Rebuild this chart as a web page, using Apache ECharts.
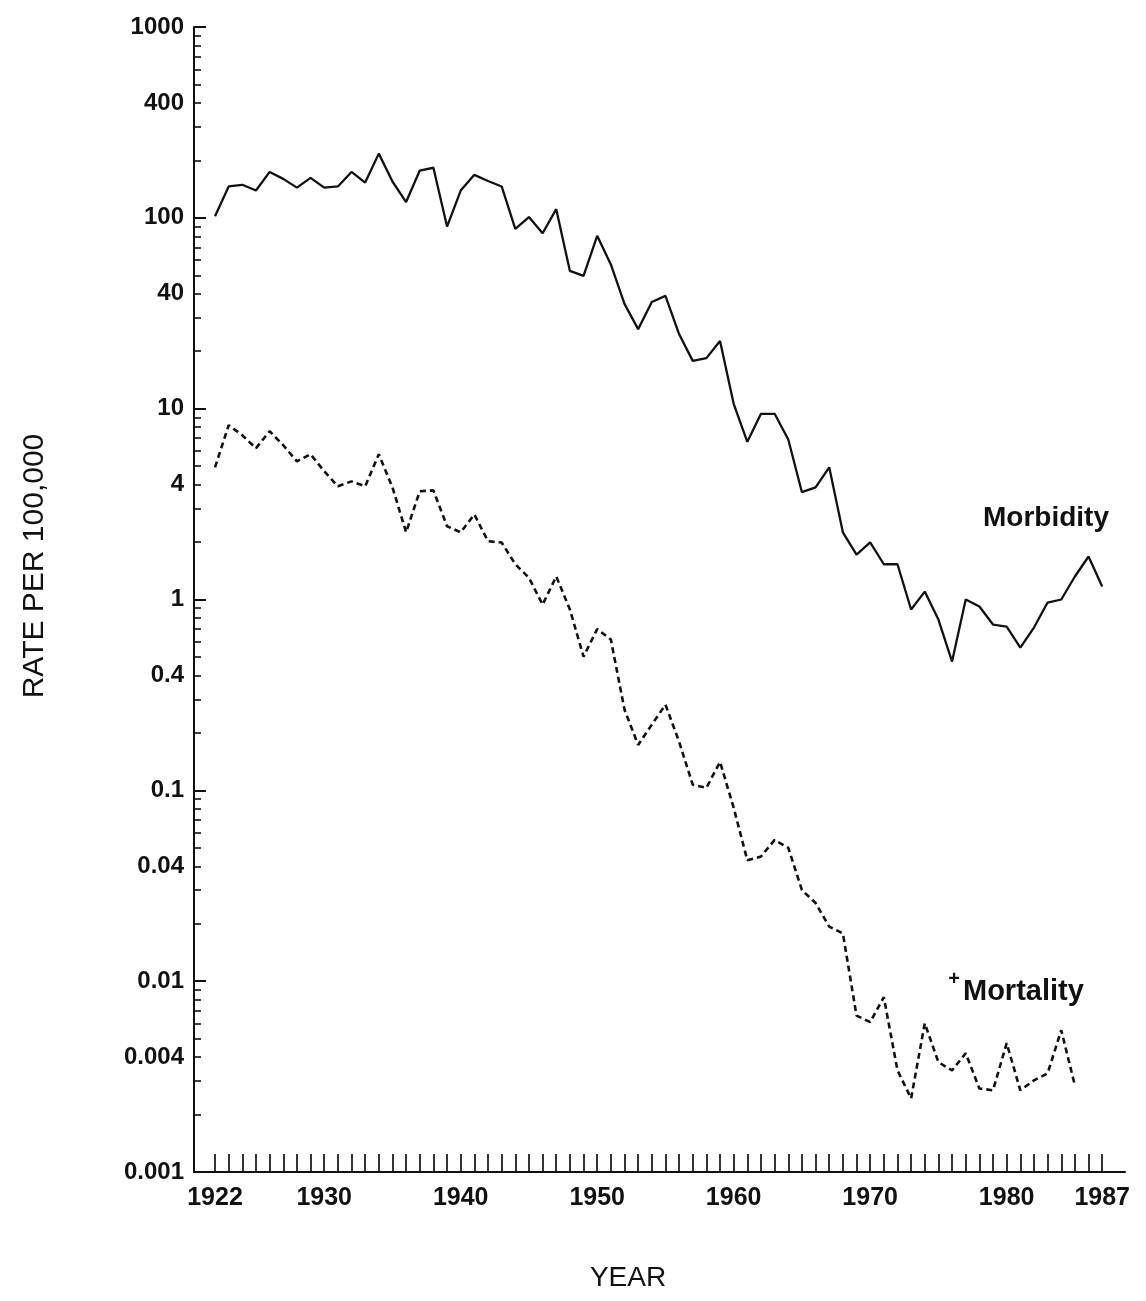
<!DOCTYPE html>
<html>
<head>
<meta charset="utf-8">
<script src="https://cdn.jsdelivr.net/npm/echarts@6/dist/echarts.min.js"></script>
<style>
  html, body { margin: 0; padding: 0; background: #ffffff; }
  #chart { width: 1146px; height: 1301px; }
</style>
</head>
<body>
<div id="chart"></div>
<script>
// Years of observation
const years = [
  1922, 1923, 1924, 1925, 1926, 1927, 1928, 1929, 1930, 1931,
  1932, 1933, 1934, 1935, 1936, 1937, 1938, 1939, 1940, 1941,
  1942, 1943, 1944, 1945, 1946, 1947, 1948, 1949, 1950, 1951,
  1952, 1953, 1954, 1955, 1956, 1957, 1958, 1959, 1960, 1961,
  1962, 1963, 1964, 1965, 1966, 1967, 1968, 1969, 1970, 1971,
  1972, 1973, 1974, 1975, 1976, 1977, 1978, 1979, 1980, 1981,
  1982, 1983, 1984, 1985, 1986, 1987
];

// Reported cases per 100,000 (1922-1987)
const morbidity = [
  102, 146, 149, 139, 174, 160, 144, 162, 144, 146,
  174, 153, 217, 155, 121, 177, 183, 90, 139, 168,
  156, 146, 87.5, 101, 83, 111, 52.7, 49.6, 80.5, 57,
  35.4, 26.1, 36.2, 39, 24.6, 17.8, 18.4, 22.6, 10.6, 6.7,
  9.4, 9.4, 6.9, 3.65, 3.87, 4.93, 2.25, 1.72, 1.99, 1.53,
  1.53, 0.886, 1.10, 0.785, 0.473, 1.0, 0.919, 0.739, 0.721, 0.560,
  0.713, 0.964, 1.0, 1.32, 1.68, 1.17
];

// Deaths per 100,000 (1922-1985)
const mortality = [
  4.93, 8.19, 7.26, 6.2, 7.62, 6.43, 5.3, 5.77, 4.7, 3.92,
  4.16, 3.92, 5.77, 3.87, 2.25, 3.69, 3.73, 2.42, 2.25, 2.79,
  2.02, 1.99, 1.53, 1.30, 0.94, 1.32, 0.886, 0.502, 0.70, 0.617,
  0.265, 0.173, 0.221, 0.281, 0.18, 0.107, 0.103, 0.141, 0.081, 0.043,
  0.045, 0.055, 0.050, 0.030, 0.0257, 0.0193, 0.0178, 0.0066, 0.0061, 0.00824,
  0.00341, 0.00243, 0.00602, 0.00376, 0.00341, 0.00419, 0.00274, 0.00268, 0.00473, 0.00268,
  0.00302, 0.00329, 0.00553, 0.00284
];

// Axis labels
const xLabelYears = [1922, 1930, 1940, 1950, 1960, 1970, 1980, 1987];
const yLabelValues = [0.001, 0.004, 0.01, 0.04, 0.1, 0.4, 1, 4, 10, 40, 100, 400, 1000];
const yDecades = [0.001, 0.01, 0.1, 1, 10, 100, 1000];

// Minor log ticks: 1..9 times each decade
const yMinorTicks = [];
for (let d = 0; d < yDecades.length - 1; d++) {
  for (let k = 1; k <= 9; k++) yMinorTicks.push(+(yDecades[d] * k).toPrecision(3));
}
yMinorTicks.push(1000);

const FONT = '"Liberation Sans", Arial, sans-serif';
const INK = '#111';

const morbidityData = years.map((y, i) => [y, morbidity[i]]);
const mortalityData = years.slice(0, mortality.length).map((y, i) => [y, mortality[i]]);

const chart = echarts.init(document.getElementById('chart'), null, { renderer: 'canvas' });

const fmt = v => String(+Number(v).toPrecision(3));

chart.setOption({
  backgroundColor: '#ffffff',
  animation: false,
  grid: {
    left: 194, top: 27, width: 931, height: 1145,
    containLabel: false, outerBoundsMode: 'none'
  },
  xAxis: {
    type: 'value',
    min: 1920.46,
    max: 1988.67,
    splitLine: { show: false },
    axisLine: { show: true, onZero: false, lineStyle: { color: INK, width: 2 } },
    axisTick: {
      show: true, inside: true, length: 18,
      customValues: years,
      lineStyle: { color: INK, width: 1.7 }
    },
    axisLabel: {
      show: true, margin: 14,
      customValues: xLabelYears,
      formatter: v => String(Math.round(v)),
      color: INK, fontFamily: FONT, fontSize: 25, fontWeight: 'bold'
    }
  },
  yAxis: [
    {
      type: 'log',
      logBase: 10,
      min: 0.001,
      max: 1000,
      position: 'left',
      splitLine: { show: false },
      axisLine: { show: true, lineStyle: { color: INK, width: 2 } },
      axisTick: {
        show: true, inside: true, length: 7,
        customValues: yMinorTicks,
        lineStyle: { color: INK, width: 1.6 }
      },
      axisLabel: {
        show: true, margin: 10,
        customValues: yLabelValues,
        formatter: fmt,
        color: INK, fontFamily: FONT, fontSize: 24, fontWeight: 'bold'
      }
    },
    {
      type: 'log',
      logBase: 10,
      min: 0.001,
      max: 1000,
      position: 'left',
      offset: 0,
      splitLine: { show: false },
      axisLine: { show: false },
      axisTick: {
        show: true, inside: true, length: 12,
        customValues: yDecades,
        lineStyle: { color: INK, width: 2 }
      },
      axisLabel: { show: false }
    }
  ],
  series: [
    {
      name: 'Morbidity',
      type: 'line',
      data: morbidityData,
      showSymbol: false,
      symbol: 'none',
      lineStyle: { color: INK, width: 2.3 },
      z: 3
    },
    {
      name: 'Mortality',
      type: 'line',
      data: mortalityData,
      showSymbol: false,
      symbol: 'none',
      lineStyle: { color: INK, width: 2.6, type: [6, 4] },
      z: 3
    }
  ],
  graphic: [
    {
      type: 'text', x: 1046, y: 518,
      style: {
        text: 'Morbidity', fill: INK,
        font: 'bold 28px ' + FONT,
        align: 'center', verticalAlign: 'middle',
        textAlign: 'center', textVerticalAlign: 'middle'
      }
    },
    {
      type: 'text', x: 954, y: 979,
      style: {
        text: '+', fill: INK,
        font: 'bold 20px ' + FONT,
        align: 'center', verticalAlign: 'middle',
        textAlign: 'center', textVerticalAlign: 'middle'
      }
    },
    {
      type: 'text', x: 963, y: 992,
      style: {
        text: 'Mortality', fill: INK,
        font: 'bold 29px ' + FONT,
        align: 'left', verticalAlign: 'middle',
        textAlign: 'left', textVerticalAlign: 'middle'
      }
    },
    {
      type: 'text', x: 35, y: 566, rotation: Math.PI / 2,
      style: {
        text: 'RATE PER 100,000', fill: INK,
        font: '30px ' + FONT,
        align: 'center', verticalAlign: 'middle',
        textAlign: 'center', textVerticalAlign: 'middle'
      }
    },
    {
      type: 'text', x: 628, y: 1278,
      style: {
        text: 'YEAR', fill: INK,
        font: '28px ' + FONT,
        align: 'center', verticalAlign: 'middle',
        textAlign: 'center', textVerticalAlign: 'middle'
      }
    }
  ]
});
</script>
</body>
</html>
